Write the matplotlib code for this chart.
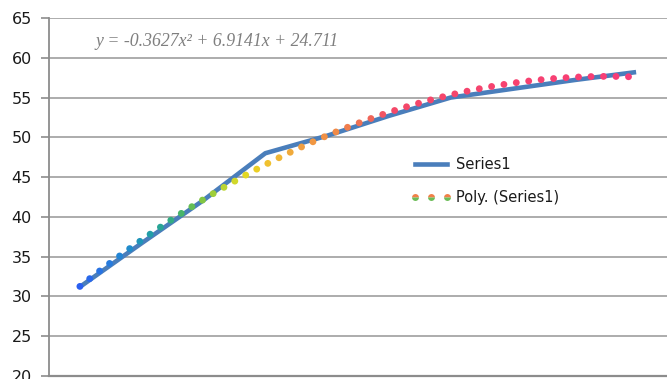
import numpy as np
import matplotlib
matplotlib.use("Agg")
import matplotlib.pyplot as plt
from matplotlib.colors import LinearSegmentedColormap
from matplotlib.lines import Line2D

# ---- data ----
categories = [1, 2, 3, 4, 5, 6, 7, 8, 9, 10]
series1 = [31.2, 36.7, 42.1, 48.0, 50.2, 52.7, 55.0, 56.1, 57.2, 58.2]
trend_coef = [-0.3627, 6.9141, 24.711]   # displayed polynomial trendline
y_ticks = [20, 25, 30, 35, 40, 45, 50, 55, 60, 65]
equation_label = "y = -0.3627x\u00b2 + 6.9141x + 24.711"
series_label = "Series1"
trend_label = "Poly. (Series1)"

W, H = 667, 379
fig = plt.figure(figsize=(W / 100, H / 100), dpi=100)
fig.patch.set_facecolor("white")
ax = fig.add_axes([49 / W, 3 / H, 618 / W, 358 / H])

ax.set_xlim(0.5, 10.5)
ax.set_ylim(20, 65)
ax.set_yticks(y_ticks)
ax.set_xticks([])
ax.grid(axis="y", color="#a6a6a6", lw=1.3)
ax.set_axisbelow(True)
for s in ["top", "right"]:
    ax.spines[s].set_visible(False)
ax.spines["left"].set_color("#8c8c8c")
ax.spines["left"].set_linewidth(1.3)
ax.spines["bottom"].set_color("#8c8c8c")
ax.spines["bottom"].set_linewidth(1.6)
ax.tick_params(axis="y", direction="out", length=5.5, width=1.2, color="#8c8c8c",
               pad=7, labelsize=11.5, labelcolor="#1a1a1a")
for t in ax.get_yticklabels():
    t.set_fontfamily("DejaVu Sans")

# series line
ax.plot(categories, series1, color="#4a7ebb", lw=3.3, solid_capstyle="butt", zorder=2)

# gradient dotted trendline
stops_px = [80, 105, 125, 145, 165, 185, 205, 230, 250, 270, 300, 340, 370, 395, 640]
stops_col = ['#2a5ff0', '#2878e0', '#2088d0', '#1f9ab0', '#2aa890', '#50b860', '#88c840',
             '#c8d830', '#e8d820', '#f0c030', '#f0a040', '#f08848', '#f06858', '#f44868', '#f83c78']
fr = [(p - 80) / 560 for p in stops_px]
fr[0] = 0.0
fr[-1] = 1.0
cmap = LinearSegmentedColormap.from_list("trend", list(zip(fr, stops_col)))

xd = np.linspace(categories[0], categories[-1], 2000)
yd = np.polyval(trend_coef, xd)
disp = ax.transData.transform(np.column_stack([xd, yd]))
seg = np.hypot(np.diff(disp[:, 0]), np.diff(disp[:, 1]))
arc = np.concatenate([[0], np.cumsum(seg)])
spacing = 12.5
targets = np.arange(0, arc[-1] - 2, spacing)
dx = np.interp(targets, arc, disp[:, 0])
dy = np.interp(targets, arc, disp[:, 1])
dat = ax.transData.inverted().transform(np.column_stack([dx, dy]))
cols = cmap((dat[:, 0] - categories[0]) / (categories[-1] - categories[0]))
ax.scatter(dat[:, 0], dat[:, 1], s=24, c=cols, edgecolors="none", zorder=3)

# equation
fig.text(95 / W, 1 - 42 / H, equation_label, family="Liberation Serif", style="italic",
         fontsize=12.8, color="#7f7f7f", ha="left", va="center")

# legend
h1 = Line2D([], [], color="#4a7ebb", lw=3.3)
h2 = Line2D([], [], linestyle="none", marker="o", markersize=5, markeredgewidth=0,
            fillstyle="top", markerfacecolor="#f08048", markerfacecoloralt="#6cbc58")
leg = ax.legend([h1, h2], [series_label, trend_label], loc="upper left",
                bbox_to_anchor=(411 / W, 1 - 157 / H), bbox_transform=fig.transFigure,
                frameon=False, borderpad=0, borderaxespad=0, handlelength=2.8,
                handletextpad=0.3, labelspacing=1.25, numpoints=3,
                prop={"family": "DejaVu Sans", "size": 10.5})
for t in leg.get_texts():
    t.set_color("#1a1a1a")

fig.savefig("out.png", dpi=100, facecolor="white")
